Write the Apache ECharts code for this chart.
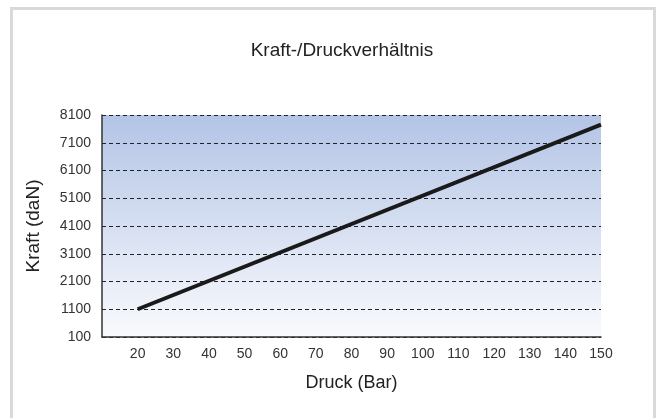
<!DOCTYPE html>
<html>
<head>
<meta charset="utf-8">
<script src="https://cdn.jsdelivr.net/npm/echarts@6/dist/echarts.min.js"></script>
<style>
  html, body { margin: 0; padding: 0; background: #fff; }
  #chart { width: 658px; height: 418px; }
</style>
</head>
<body>
<div id="chart"></div>
<script>
// Daten
const druck = [20, 150]
const kraft = [1100, 7750]
const yTicks = [100, 1100, 2100, 3100, 4100, 5100, 6100, 7100, 8100]

const chart = echarts.init(document.getElementById('chart'))
const font = '"Liberation Sans", Arial, sans-serif'

const option = {
  animation: false,
  backgroundColor: '#fff',
  textStyle: { fontFamily: font },
  title: {
    text: 'Kraft-/Druckverhältnis',
    left: 337,
    top: 36,
    textAlign: 'center',
    textStyle: { fontFamily: font, fontSize: 19, fontWeight: 'normal', color: '#222' }
  },
  graphic: [{
    type: 'rect',
    shape: { x: 11.5, y: 8.5, width: 643, height: 420 },
    style: { fill: 'none', stroke: '#d9d9d9', lineWidth: 3 },
    silent: true
  }],
  grid: {
    left: 102,
    right: 57,
    top: 115,
    bottom: 81,
    show: true,
    borderWidth: 0,
    backgroundColor: new echarts.graphic.LinearGradient(0, 0, 0, 1, [
      { offset: 0, color: '#b3c4e6' },
      { offset: 1, color: '#f9fafd' }
    ])
  },
  xAxis: {
    type: 'value',
    min: 10,
    max: 150,
    interval: 10,
    name: 'Druck (Bar)',
    nameLocation: 'middle',
    nameGap: 37,
    nameTextStyle: { fontFamily: font, fontSize: 18, color: '#222' },
    axisLine: { show: true, lineStyle: { color: '#333', width: 1.5 } },
    axisTick: { show: false },
    splitLine: { show: false },
    axisLabel: {
      fontFamily: font,
      fontSize: 14,
      color: '#333',
      margin: 10,
      formatter: v => (v < 20 ? '' : String(v))
    }
  },
  yAxis: {
    type: 'value',
    min: yTicks[0],
    max: yTicks[yTicks.length - 1],
    interval: 1000,
    name: 'Kraft (daN)',
    nameLocation: 'middle',
    nameGap: 59,
    nameRotate: 90,
    nameTextStyle: { fontFamily: font, fontSize: 19, color: '#222' },
    axisLine: { show: true, lineStyle: { color: '#333', width: 1.5 } },
    axisTick: { show: false },
    axisLabel: {
      fontFamily: font,
      fontSize: 14,
      color: '#333',
      margin: 11,
      formatter: v => String(v)
    },
    splitLine: {
      show: true,
      lineStyle: { color: '#222', width: 1, type: [4, 3] }
    }
  },
  series: [{
    type: 'line',
    data: druck.map((d, i) => [d, kraft[i]]),
    symbol: 'none',
    lineStyle: { color: '#1a1a1a', width: 4 },
    z: 5
  }]
}

chart.setOption(option)
</script>
</body>
</html>
